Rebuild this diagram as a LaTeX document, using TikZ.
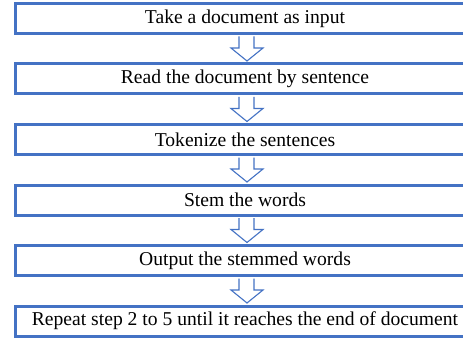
\documentclass[tikz,border=0pt]{standalone}
\usepackage{fontspec}
\setmainfont{Liberation Serif}
\usetikzlibrary{calc}
\definecolor{boxblue}{HTML}{4472C4}
\tikzset{
  x=1pt,y=1pt,
  stepbox/.style={draw=boxblue, line width=3pt, fill=white, minimum width=460pt, minimum height=30pt, inner sep=0pt, font=\fontsize{19.6}{22}\selectfont, text=black},
  flowarrow/.style={draw=boxblue, line width=1.1pt, fill=white, line join=miter}
}
\newcommand\blockarrow[2]{%
  \draw[flowarrow] ($(#1.south)+(-6,-1.5)$) -- ($(#1.south)+(-6,-13)$) -- ($(#1.south)+(-14,-13)$)
    -- ($(#2.north)+(2,1.5)$) -- ($(#1.south)+(18,-13)$) -- ($(#1.south)+(9,-13)$) -- ($(#1.south)+(9,-1.5)$);}
\begin{document}
\begin{tikzpicture}
\useasboundingbox[clip] (0,0) rectangle (463,338);
\fill[white] (0,0) rectangle (463,338);
\node[stepbox] (s1) at (245,319.5) {Take a document as input};
\node[stepbox] (s2) at (245,259) {Read the document by sentence};
\node[stepbox] (s3) at (245,198.5) {Tokenize the sentences};
\node[stepbox] (s4) at (245,138) {Stem the words};
\node[stepbox] (s5) at (245,77.5) {Output the stemmed words};
\node[stepbox] (s6) at (245,17) {Repeat step 2 to 5 until it reaches the end of document};
\blockarrow{s1}{s2}
\blockarrow{s2}{s3}
\blockarrow{s3}{s4}
\blockarrow{s4}{s5}
\blockarrow{s5}{s6}
\end{tikzpicture}
\end{document}
